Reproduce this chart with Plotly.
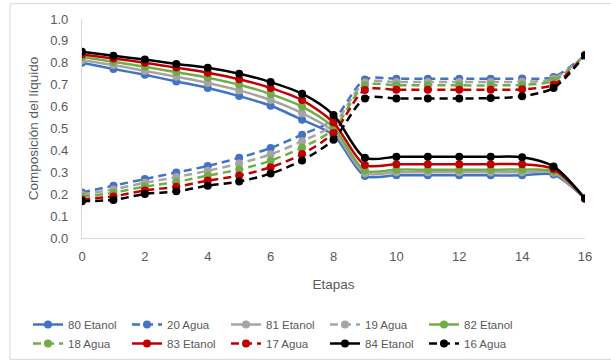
import plotly.graph_objects as go

etapas = list(range(17))

etanol_80 = [0.800, 0.772, 0.745, 0.715, 0.685, 0.648, 0.604, 0.540, 0.470, 0.283, 0.286, 0.286, 0.286, 0.286, 0.286, 0.290, 0.180]
etanol_81 = [0.812, 0.790, 0.763, 0.736, 0.708, 0.674, 0.630, 0.570, 0.487, 0.296, 0.300, 0.300, 0.300, 0.300, 0.300, 0.298, 0.180]
etanol_82 = [0.826, 0.805, 0.782, 0.757, 0.732, 0.700, 0.657, 0.600, 0.505, 0.308, 0.312, 0.312, 0.312, 0.312, 0.312, 0.305, 0.180]
etanol_83 = [0.838, 0.820, 0.800, 0.778, 0.755, 0.725, 0.685, 0.630, 0.527, 0.333, 0.337, 0.337, 0.337, 0.337, 0.337, 0.315, 0.180]
etanol_84 = [0.850, 0.832, 0.815, 0.795, 0.777, 0.750, 0.712, 0.659, 0.562, 0.366, 0.371, 0.371, 0.371, 0.371, 0.369, 0.327, 0.180]

agua_20 = [0.208, 0.239, 0.269, 0.299, 0.329, 0.366, 0.411, 0.472, 0.540, 0.724, 0.727, 0.727, 0.727, 0.727, 0.728, 0.735, 0.835]
agua_19 = [0.198, 0.222, 0.252, 0.278, 0.307, 0.340, 0.382, 0.442, 0.518, 0.710, 0.712, 0.712, 0.712, 0.712, 0.713, 0.727, 0.835]
agua_18 = [0.188, 0.207, 0.235, 0.256, 0.285, 0.313, 0.353, 0.413, 0.497, 0.697, 0.697, 0.697, 0.697, 0.697, 0.699, 0.718, 0.835]
agua_17 = [0.176, 0.190, 0.217, 0.234, 0.262, 0.285, 0.323, 0.383, 0.479, 0.676, 0.677, 0.677, 0.677, 0.677, 0.679, 0.700, 0.835]
agua_16 = [0.168, 0.174, 0.201, 0.213, 0.239, 0.258, 0.294, 0.354, 0.449, 0.637, 0.637, 0.637, 0.637, 0.639, 0.647, 0.685, 0.835]

series = [
    ("80 Etanol", etanol_80, "#4472C4", "solid"),
    ("20 Agua", agua_20, "#4472C4", "dash"),
    ("81 Etanol", etanol_81, "#A5A5A5", "solid"),
    ("19 Agua", agua_19, "#A5A5A5", "dash"),
    ("82 Etanol", etanol_82, "#70AD47", "solid"),
    ("18 Agua", agua_18, "#70AD47", "dash"),
    ("83 Etanol", etanol_83, "#C00000", "solid"),
    ("17 Agua", agua_17, "#C00000", "dash"),
    ("84 Etanol", etanol_84, "#000000", "solid"),
    ("16 Agua", agua_16, "#000000", "dash"),
]

fig = go.Figure()
for name, vals, color, style in series:
    fig.add_trace(go.Scatter(
        x=etapas, y=vals, name=name, mode="lines+markers",
        line=dict(color=color, width=2.5, shape="spline", smoothing=0.8,
                  dash="solid" if style == "solid" else "8px,5px"),
        marker=dict(color=color, size=8, symbol="circle"),
    ))

W, H = 611, 362
L, R, T, B = 82, 26, 16, 124
pw, ph = W - L - R, H - T - B

fig.update_layout(
    width=W, height=H,
    margin=dict(l=L, r=R, t=T, b=B),
    paper_bgcolor="white", plot_bgcolor="white",
    font=dict(family="Liberation Sans, Arial, sans-serif", color="#595959", size=13),
    showlegend=True,
    legend=dict(
        orientation="h", xref="container", yref="container",
        x=28 / W, xanchor="left", y=1 - 310 / H, yanchor="top",
        font=dict(size=11.5, color="#595959"),
        entrywidth=54, itemwidth=30, tracegroupgap=0,
    ),
    xaxis=dict(
        range=[0, 16], tickvals=list(range(0, 17, 2)), showgrid=False, zeroline=False,
        showline=True, linecolor="#D9D9D9", linewidth=1.3, ticks="",
        ticklabelstandoff=6,
        title=dict(text="Etapas", font=dict(size=13.5, color="#595959"), standoff=16),
        tickfont=dict(size=13, color="#595959"),
    ),
    yaxis=dict(
        range=[0, 1.0], tickvals=[i / 10 for i in range(11)], tickformat=".1f",
        showgrid=False, zeroline=False, showline=True, linecolor="#D9D9D9", linewidth=1.3,
        ticks="", ticklabelstandoff=10,
        title=dict(text="Composición del líquido", font=dict(size=13.5, color="#595959"), standoff=8),
        tickfont=dict(size=13, color="#595959"),
    ),
)

fig.add_shape(type="rect", xref="paper", yref="paper",
              x0=(10 - L) / pw, x1=(W + 5 - L) / pw,
              y0=(H - B - 361) / ph, y1=(H - B - 0.5) / ph,
              line=dict(color="#D9D9D9", width=1), fillcolor="rgba(0,0,0,0)", layer="below")

fig.write_html("out.html")
